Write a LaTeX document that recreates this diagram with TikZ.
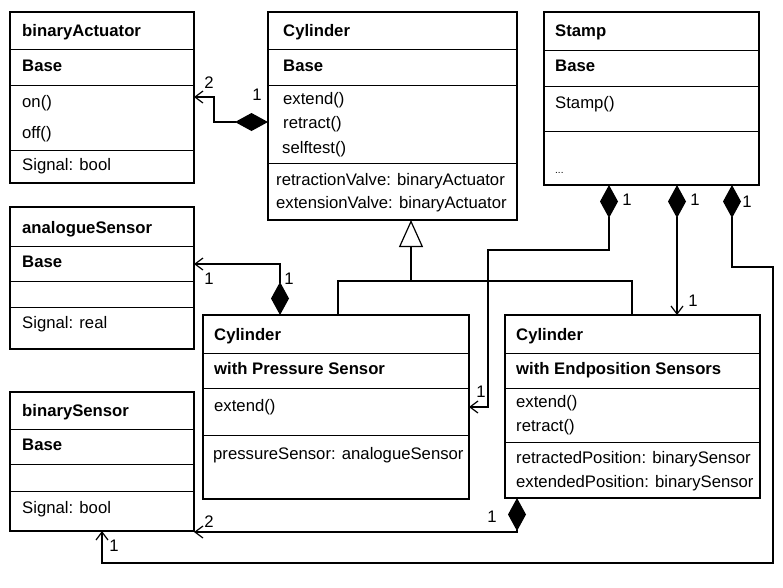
\documentclass[tikz,border=0pt]{standalone}
\usepackage{fontspec}
\setmainfont{Liberation Sans}
\usetikzlibrary{arrows.meta}

\tikzset{
  classbox/.style={draw, line width=2pt, fill=white, anchor=north west, inner sep=0pt, outer sep=0pt},
  sepline/.style={line width=1pt},
  member/.style={anchor=base west, inner sep=0pt, font=\fontsize{16.7}{19}\selectfont},
  classname/.style={member, font=\fontsize{16.7}{19}\selectfont\bfseries},
  mult/.style={inner sep=0pt, font=\fontsize{16.7}{19}\selectfont},
  assoc/.style={line width=1.2pt, {Diamond[length=33pt,width=18pt]}-{Straight Barb[length=8pt,width=12pt]}},
  genline/.style={line width=1.2pt},
  inherit/.style={line width=1.2pt, -{Triangle[open,length=27pt,width=24pt]}}
}

\begin{document}
\begin{tikzpicture}[x=1pt, y=-1pt]
  \useasboundingbox (0,0) rectangle (783,587);

  % class boxes
  \node[classbox, minimum width=184pt, minimum height=171pt] (bact) at (10,12) {};
  \node[classbox, minimum width=249pt, minimum height=208pt] (cyl) at (268,12) {};
  \node[classbox, minimum width=215pt, minimum height=173pt] (stamp) at (544,12) {};
  \node[classbox, minimum width=184pt, minimum height=142pt] (asens) at (10,207) {};
  \node[classbox, minimum width=184pt, minimum height=139pt] (bsens) at (10,392) {};
  \node[classbox, minimum width=266pt, minimum height=184pt] (cylp) at (203,315) {};
  \node[classbox, minimum width=255pt, minimum height=183pt] (cyle) at (505,315) {};

  % compartments
  \foreach \y in {49,85,150} \draw[sepline] (bact.west |- 0,\y) -- (bact.east |- 0,\y);
  \foreach \y in {49,85,163} \draw[sepline] (cyl.west |- 0,\y) -- (cyl.east |- 0,\y);
  \foreach \y in {50,86,131} \draw[sepline] (stamp.west |- 0,\y) -- (stamp.east |- 0,\y);
  \foreach \y in {246,281,307} \draw[sepline] (asens.west |- 0,\y) -- (asens.east |- 0,\y);
  \foreach \y in {429,464,491} \draw[sepline] (bsens.west |- 0,\y) -- (bsens.east |- 0,\y);
  \foreach \y in {353,388,435} \draw[sepline] (cylp.west |- 0,\y) -- (cylp.east |- 0,\y);
  \foreach \y in {353,388,442} \draw[sepline] (cyle.west |- 0,\y) -- (cyle.east |- 0,\y);

  % binaryActuator
  \node[classname] (bact-name) at (22,36) {binaryActuator};
  \node[classname] (bact-base) at (22,71) {Base};
  \node[member] (bact-on) at (22,107) {on()};
  \node[member] (bact-off) at (22,138) {off()};
  \node[member] (bact-sig) at (22,170) {Signal: bool};

  % Cylinder
  \node[classname] (cyl-name) at (283,36) {Cylinder};
  \node[classname] (cyl-base) at (283,71) {Base};
  \node[member] (cyl-ext) at (283,104) {extend()};
  \node[member] (cyl-ret) at (283,128) {retract()};
  \node[member] (cyl-test) at (282,153) {selftest()};
  \node[member] (cyl-rv) at (276,185) {retractionValve: binaryActuator};
  \node[member] (cyl-ev) at (276,208) {extensionValve: binaryActuator};

  % Stamp
  \node[classname] (stamp-name) at (555,36) {Stamp};
  \node[classname] (stamp-base) at (555,71) {Base};
  \node[member] (stamp-op) at (555,108) {Stamp()};
  \node[member] (stamp-dots) at (555,173) {\fontsize{10}{12}\selectfont...};

  % analogueSensor
  \node[classname] (asens-name) at (22,233) {analogueSensor};
  \node[classname] (asens-base) at (22,267) {Base};
  \node[member] (asens-sig) at (22,328) {Signal: real};

  % binarySensor
  \node[classname] (bsens-name) at (22,416) {binarySensor};
  \node[classname] (bsens-base) at (22,450) {Base};
  \node[member] (bsens-sig) at (22,513) {Signal: bool};

  % Cylinder with Pressure Sensor
  \node[classname] (cylp-name) at (214,340) {Cylinder};
  \node[classname] (cylp-sub) at (214,374) {with Pressure Sensor};
  \node[member] (cylp-ext) at (214,411) {extend()};
  \node[member] (cylp-ps) at (213,459) {pressureSensor: analogueSensor};

  % Cylinder with Endposition Sensors
  \node[classname] (cyle-name) at (516,340) {Cylinder};
  \node[classname] (cyle-sub) at (516,374) {with Endposition Sensors};
  \node[member] (cyle-ext) at (516,407) {extend()};
  \node[member] (cyle-ret) at (516,431) {retract()};
  \node[member] (cyle-rp) at (516,463) {retractedPosition: binarySensor};
  \node[member] (cyle-ep) at (516,487) {extendedPosition: binarySensor};

  % inheritance
  \coordinate (genjoin) at (411,281);
  \draw[genline] (338,0 |- cylp.north) |- (632,281) -- (632,0 |- cyle.north);
  \draw[inherit] (genjoin) -- (411,0 |- cyl.south);

  % compositions
  \draw[assoc] (cyl.west |- 0,122) -| (214,97) -- (bact.east |- 0,97);
  \draw[assoc] (280,0 |- cylp.north) |- (asens.east |- 0,264);
  \draw[assoc] (609,0 |- stamp.south) |- (488,250) |- (cylp.east |- 0,407);
  \draw[assoc] (677,0 |- stamp.south) -- (677,0 |- cyle.north);
  \draw[assoc] (732,0 |- stamp.south) |- (773,267) |- (102,563) -- (102,0 |- bsens.south);
  \draw[assoc] (517,0 |- cyle.south) |- (bsens.east |- 0,532);

  % multiplicities
  \node[mult] (m1) at (209,83) {2};
  \node[mult] (m2) at (257,95) {1};
  \node[mult] (m3) at (209,279) {1};
  \node[mult] (m4) at (289,279) {1};
  \node[mult] (m5) at (627,200) {1};
  \node[mult] (m6) at (695,200) {1};
  \node[mult] (m7) at (747,202) {1};
  \node[mult] (m8) at (693,301) {1};
  \node[mult] (m9) at (481,392) {1};
  \node[mult] (m10) at (209,522) {2};
  \node[mult] (m11) at (492,517) {1};
  \node[mult] (m12) at (114,546) {1};
\end{tikzpicture}
\end{document}
